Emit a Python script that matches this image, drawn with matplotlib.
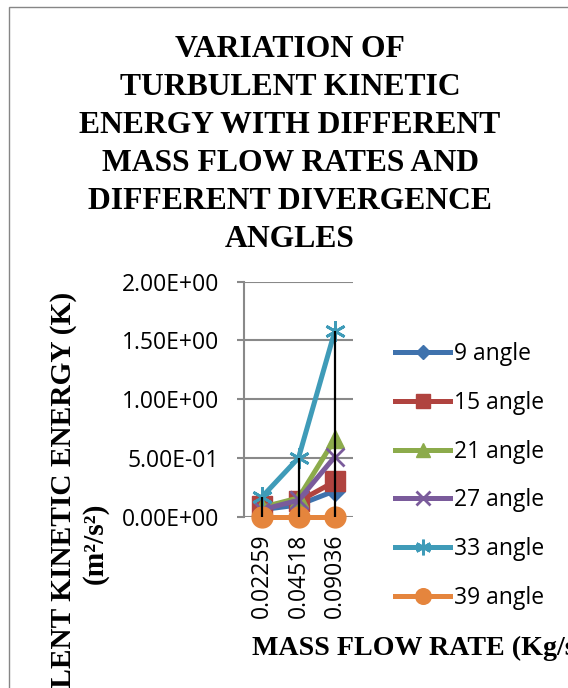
import matplotlib
matplotlib.use("Agg")
import matplotlib.pyplot as plt
from matplotlib.patches import Rectangle

# mass flow rate categories (kg/s)
mass_flow = ["0.02259", "0.04518", "0.09036"]

# turbulent kinetic energy per divergence angle
angle_9 = [0.06, 0.10, 0.22]
angle_15 = [0.09, 0.13, 0.30]
angle_21 = [0.08, 0.16, 0.66]
angle_27 = [0.06, 0.14, 0.51]
angle_33 = [0.17, 0.50, 1.58]
angle_39 = [0.0, 0.0, 0.0]

series_names = ["9 angle", "15 angle", "21 angle", "27 angle", "33 angle", "39 angle"]
yticks = [0.0, 0.5, 1.0, 1.5, 2.0]
ytick_labels = ["0.00E+00", "5.00E-01", "1.00E+00", "1.50E+00", "2.00E+00"]

W, H = 568, 688
fig = plt.figure(figsize=(W / 100, H / 100), dpi=100)

# chart border (only top/left visible in the crop)
fig.patches.append(Rectangle((9 / W, -0.1), 1.2, 1 - 7 / H + 0.1,
                             transform=fig.transFigure, fill=False,
                             edgecolor="#868686", linewidth=1))

ax = fig.add_axes([244 / W, 1 - 516.7 / H, 109 / W, 235 / H])

x = range(len(mass_flow))
styles = [
    ("#3f72ad", "D", 10, 1),
    ("#b0433f", "s", 14, 1),
    ("#8cab4b", "^", 13, 1),
    ("#7a5b9b", "x", 13, 2),
    ("#3f9bb8", (6, 2, 0), 15, 2),
    ("#e5853d", "o", 15, 1),
]
data = [angle_9, angle_15, angle_21, angle_27, angle_33, angle_39]
for i, (vals, name, (c, m, ms, mew)) in enumerate(zip(data, series_names, styles)):
    ax.plot(x, vals, color=c, linewidth=3.6, marker=m, markersize=ms,
            markeredgewidth=mew, markeredgecolor=c, markerfacecolor=c,
            label=name, zorder=3 + i, clip_on=False)

# high-low lines
lows = [min(v) for v in zip(*data)]
highs = [max(v) for v in zip(*data)]
ax.vlines(list(x), lows, highs, color="black", linewidth=1.6, zorder=20)

ax.set_xlim(-0.5, 2.5)
ax.set_ylim(0, 2)
ax.set_yticks(yticks)
ax.set_yticklabels(ytick_labels, fontfamily="Open Sans", fontsize=16.5)
ax.set_xticks(list(x))
ax.set_xticklabels(mass_flow, rotation=90, fontfamily="Open Sans", fontsize=16.5)
ax.tick_params(axis="x", length=0, pad=12)
ax.tick_params(axis="y", length=5, width=1.5, color="#898989", pad=13)
ax.grid(axis="y", color="#898989", linewidth=1.5)
ax.set_axisbelow(True)
for s in ["top", "right", "bottom"]:
    ax.spines[s].set_visible(False)
ax.spines["left"].set_color("#898989")
ax.spines["left"].set_linewidth(1.5)

leg = ax.legend(loc="center left", bbox_to_anchor=(384 / W, 1 - 476 / H),
                bbox_transform=fig.transFigure, frameon=False, borderpad=0,
                prop={"family": "Open Sans", "size": 16.5}, handlelength=2.4,
                handletextpad=0.15, labelspacing=1.08, markerscale=0.75)

title_lines = ["VARIATION OF", "TURBULENT KINETIC", "ENERGY WITH DIFFERENT",
               "MASS FLOW RATES AND", "DIFFERENT DIVERGENCE", "ANGLES"]
for k, line in enumerate(title_lines):
    fig.text(290 / W, 1 - (57 + 38 * k) / H, line, ha="center", va="baseline",
             fontfamily="Liberation Serif", fontweight="bold", fontsize=22.8)

fig.text(64 / W, 1 - 292 / H, "TURBULENT KINETIC ENERGY (K)", rotation=90,
         ha="center", va="top", fontfamily="Liberation Serif",
         fontweight="bold", fontsize=21.2)
fig.text(95 / W, 1 - 503 / H, "(m²/s²)", rotation=90, ha="center", va="top",
         fontfamily="Liberation Serif", fontweight="bold", fontsize=21.2)

fig.text(252 / W, 1 - 655 / H, "MASS FLOW RATE (Kg/s)", ha="left", va="baseline",
         fontfamily="Liberation Serif", fontweight="bold", fontsize=20.2)

fig.savefig("out.png", dpi=100)
